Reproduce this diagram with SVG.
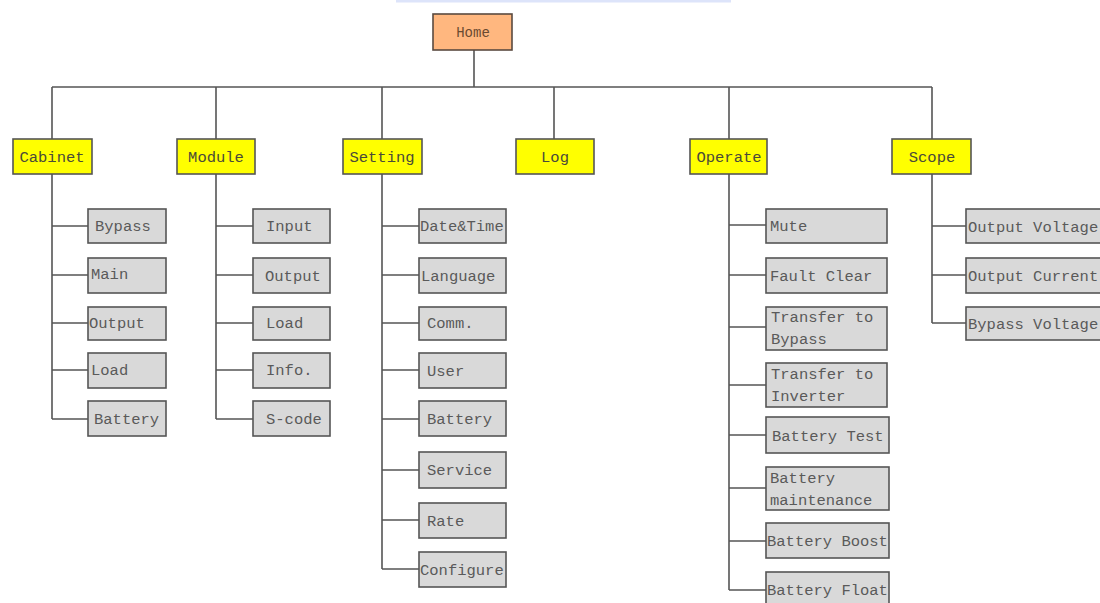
<svg xmlns="http://www.w3.org/2000/svg" width="1100" height="603" viewBox="0 0 1100 603">
<style>
.ln{stroke:#555;stroke-width:1.6;fill:none}
.home{fill:#FFB77F;stroke:#5a4a40;stroke-width:1.6}
.top{fill:#FFFF00;stroke:#555;stroke-width:1.6}
.leaf{fill:#D9D9D9;stroke:#555;stroke-width:1.6}
text{font-family:"Liberation Mono","DejaVu Sans Mono",monospace;font-size:15.5px;fill:#5a5a5a}
.tt{fill:#4a4a3a;text-anchor:middle}
.ht{fill:#6a4a30;text-anchor:middle;font-size:14px}
</style>
<rect x="396" y="0" width="335" height="2.5" fill="#dde4fa"/>
<g id="connectors">
<path class="ln" d="M474 50V87M52 87H932M52 87V139M216 87V139M382 87V139M554 87V139M729 87V139M932 87V139"/>
<path class="ln" d="M52 174V419M52 226H88M52 275H88M52 323H88M52 370H88M52 419H88"/>
<path class="ln" d="M216 174V419M216 226H253M216 275H253M216 323H253M216 370H253M216 419H253"/>
<path class="ln" d="M382 174V569M382 226H419M382 275H419M382 323H419M382 370H419M382 419H419M382 470H419M382 520H419M382 569H419"/>
<path class="ln" d="M729 174V590M729 225H766M729 275H766M729 327H766M729 385H766M729 435H766M729 488H766M729 541H766M729 590H766"/>
<path class="ln" d="M932 174V323M932 226H966M932 275H966M932 323H966"/>
</g>
<g id="home"><rect class="home" x="433" y="14" width="79" height="36"/><text class="ht" x="473" y="37">Home</text></g>
<g id="cabinet"><rect class="top" x="13" y="139" width="79" height="35"/><text class="tt" x="52" y="162">Cabinet</text></g>
<g id="module"><rect class="top" x="177" y="139" width="78" height="35"/><text class="tt" x="216" y="162">Module</text></g>
<g id="setting"><rect class="top" x="343" y="139" width="79" height="35"/><text class="tt" x="382" y="162">Setting</text></g>
<g id="log"><rect class="top" x="516" y="139" width="78" height="35"/><text class="tt" x="555" y="162">Log</text></g>
<g id="operate"><rect class="top" x="690" y="139" width="77" height="35"/><text class="tt" x="729" y="162">Operate</text></g>
<g id="scope"><rect class="top" x="892" y="139" width="79" height="35"/><text class="tt" x="932" y="162">Scope</text></g>

<g id="cab-bypass"><rect class="leaf" x="88" y="209" width="78" height="34"/><text x="95" y="231">Bypass</text></g>
<g id="cab-main"><rect class="leaf" x="88" y="258" width="78" height="35"/><text x="91" y="279">Main</text></g>
<g id="cab-output"><rect class="leaf" x="88" y="307" width="78" height="33"/><text x="89" y="328">Output</text></g>
<g id="cab-load"><rect class="leaf" x="88" y="353" width="78" height="35"/><text x="91" y="375">Load</text></g>
<g id="cab-battery"><rect class="leaf" x="88" y="401" width="78" height="35"/><text x="94" y="424">Battery</text></g>

<g id="mod-input"><rect class="leaf" x="253" y="209" width="77" height="34"/><text x="266" y="231">Input</text></g>
<g id="mod-output"><rect class="leaf" x="253" y="258" width="77" height="35"/><text x="265" y="281">Output</text></g>
<g id="mod-load"><rect class="leaf" x="253" y="307" width="77" height="33"/><text x="266" y="328">Load</text></g>
<g id="mod-info"><rect class="leaf" x="253" y="353" width="77" height="35"/><text x="266" y="375">Info.</text></g>
<g id="mod-scode"><rect class="leaf" x="253" y="401" width="77" height="35"/><text x="266" y="424">S-code</text></g>

<g id="set-datetime"><rect class="leaf" x="419" y="209" width="87" height="34"/><text x="420" y="231">Date&amp;Time</text></g>
<g id="set-language"><rect class="leaf" x="419" y="258" width="87" height="35"/><text x="421" y="281">Language</text></g>
<g id="set-comm"><rect class="leaf" x="419" y="307" width="87" height="33"/><text x="427" y="328">Comm.</text></g>
<g id="set-user"><rect class="leaf" x="419" y="353" width="87" height="35"/><text x="427" y="376">User</text></g>
<g id="set-battery"><rect class="leaf" x="419" y="401" width="87" height="35"/><text x="427" y="424">Battery</text></g>
<g id="set-service"><rect class="leaf" x="419" y="452" width="87" height="36"/><text x="427" y="475">Service</text></g>
<g id="set-rate"><rect class="leaf" x="419" y="503" width="87" height="35"/><text x="427" y="526">Rate</text></g>
<g id="set-configure"><rect class="leaf" x="419" y="552" width="87" height="35"/><text x="420" y="575">Configure</text></g>

<g id="op-mute"><rect class="leaf" x="766" y="209" width="121" height="34"/><text x="770" y="231">Mute</text></g>
<g id="op-fault"><rect class="leaf" x="766" y="258" width="121" height="35"/><text x="770" y="281">Fault Clear</text></g>
<g id="op-tbypass"><rect class="leaf" x="766" y="307" width="121" height="43"/><text x="771" y="322">Transfer to</text><text x="771" y="344">Bypass</text></g>
<g id="op-tinverter"><rect class="leaf" x="766" y="363" width="121" height="44"/><text x="771" y="379">Transfer to</text><text x="771" y="401">Inverter</text></g>
<g id="op-btest"><rect class="leaf" x="766" y="417" width="123" height="36"/><text x="772" y="441">Battery Test</text></g>
<g id="op-bmaint"><rect class="leaf" x="766" y="467" width="123" height="43"/><text x="770" y="483">Battery</text><text x="770" y="505">maintenance</text></g>
<g id="op-bboost"><rect class="leaf" x="766" y="523" width="123" height="35"/><text x="767" y="546">Battery Boost</text></g>
<g id="op-bfloat"><rect class="leaf" x="766" y="572" width="123" height="36"/><text x="767" y="595">Battery Float</text></g>

<g id="sc-ov"><rect class="leaf" x="966" y="209" width="140" height="34"/><text x="968" y="232">Output Voltage</text></g>
<g id="sc-oc"><rect class="leaf" x="966" y="258" width="140" height="35"/><text x="968" y="281">Output Current</text></g>
<g id="sc-bv"><rect class="leaf" x="966" y="307" width="140" height="33"/><text x="968" y="329">Bypass Voltage</text></g>
</svg>
